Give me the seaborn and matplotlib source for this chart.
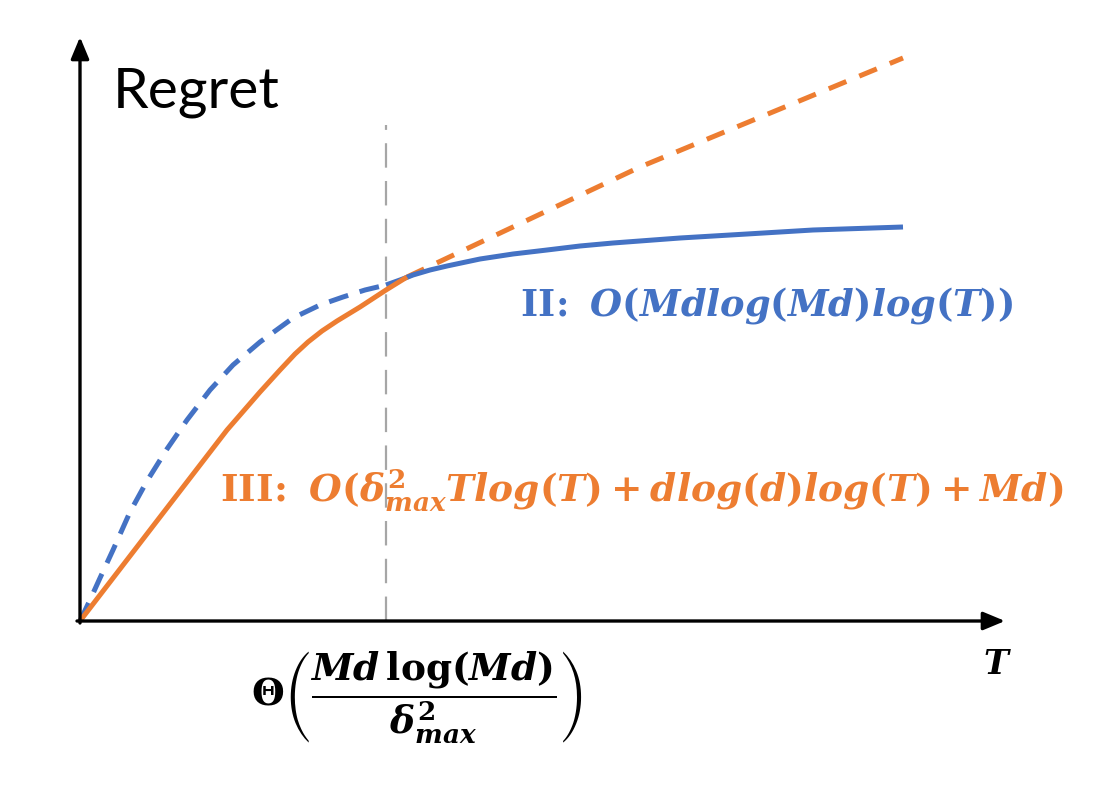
import matplotlib
matplotlib.use("Agg")
import matplotlib.pyplot as plt
import seaborn as sns
import pandas as pd

# curve points (T, Regret)
blue_dash_t = [0, 0.10, 0.20, 0.33, 0.50, 0.67, 0.87, 1.07, 1.30, 1.53, 1.80, 2.13, 2.40, 2.63, 2.85, 3.06]
blue_dash_r = [0, 0.21, 0.43, 0.71, 1.09, 1.40, 1.72, 2.01, 2.31, 2.56, 2.79, 3.03, 3.16, 3.24, 3.31, 3.36]
blue_solid_t = [3.06, 3.20, 3.33, 3.50, 3.67, 4.00, 4.33, 4.67, 5.00, 5.33, 6.00, 6.67, 7.33, 8.23]
blue_solid_r = [3.36, 3.41, 3.46, 3.51, 3.55, 3.62, 3.67, 3.71, 3.75, 3.78, 3.83, 3.87, 3.91, 3.94]
orange_solid_t = [0, 0.80, 1.47, 1.80, 2.00, 2.15, 2.28, 2.42, 2.57, 2.80, 3.06, 3.27]
orange_solid_r = [0, 1.04, 1.91, 2.29, 2.51, 2.67, 2.79, 2.90, 3.00, 3.14, 3.31, 3.44]
orange_dash_t = [3.27, 5.60, 8.23]
orange_dash_r = [3.44, 4.54, 5.63]
threshold_t = 3.06

BLUE = "#4472C4"
ORANGE = "#ED7D31"

sns.set_theme(style="white")
plt.rcParams["font.family"] = ["Lato", "DejaVu Sans"]
plt.rcParams["mathtext.fontset"] = "custom"
plt.rcParams["mathtext.rm"] = "DejaVu Serif:bold"
plt.rcParams["mathtext.bf"] = "DejaVu Serif:bold"
plt.rcParams["mathtext.it"] = "DejaVu Serif:italic:bold"
plt.rcParams["mathtext.fallback"] = "stix"

fig = plt.figure(figsize=(11.1, 7.86), dpi=100)
ax = fig.add_axes([0, 0, 1, 1])
ax.set_xlim(-0.8, 10.3)
ax.set_ylim(-1.65, 6.21)
ax.axis("off")

lw = 3.6
segments = [
    (blue_dash_t, blue_dash_r, BLUE, (4, 2.4)),
    (orange_dash_t, orange_dash_r, ORANGE, (3.8, 2.8)),
    (blue_solid_t, blue_solid_r, BLUE, None),
    (orange_solid_t, orange_solid_r, ORANGE, None),
]
for t, r, c, d in segments:
    df = pd.DataFrame({"T": t, "Regret": r})
    sns.lineplot(data=df, x="T", y="Regret", sort=False, color=c,
                 linewidth=lw, ax=ax)
    ln = ax.lines[-1]
    if d is not None:
        ln.set_dashes(d)
    ln.set_solid_capstyle("butt")
    ln.set_solid_joinstyle("round")

# threshold marker
ax.plot([threshold_t, threshold_t], [0, 4.96], color="#A6A6A6", lw=1.6,
        dashes=(11, 6), zorder=1)

# axes with arrows
ax.annotate("", xy=(9.25, 0), xytext=(-0.03, 0),
            arrowprops=dict(arrowstyle="-|>,head_length=0.6,head_width=0.25",
                            color="black", lw=2.4,
                            mutation_scale=22, shrinkA=0, shrinkB=0))
ax.annotate("", xy=(0, 5.84), xytext=(0, -0.02),
            arrowprops=dict(arrowstyle="-|>,head_length=0.6,head_width=0.25",
                            color="black", lw=2.4,
                            mutation_scale=22, shrinkA=0, shrinkB=0))

ax.text(0.33, 5.13, "Regret", fontsize=41, ha="left", va="baseline", color="black")
ax.text(9.17, -0.44, r"$T$", fontsize=24, ha="center", va="center", color="black")
ax.text(4.40, 3.16, r"$\mathrm{II\!:}\ O(Mdlog(Md)log(T))$", fontsize=26.5,
        ha="left", va="center", color=BLUE)
ax.text(1.40, 1.31,
        r"$\mathrm{III\!:}\ O(\delta^2_{max}Tlog(T)+dlog(d)log(T)+Md)$",
        fontsize=27, ha="left", va="center", color=ORANGE)
ax.text(3.37, -0.76,
        r"$\Theta\left(\dfrac{Md\,\mathrm{log}(Md)}{\delta^2_{max}}\right)$",
        fontsize=27, ha="center", va="center", color="black")

fig.savefig("out.png", dpi=100)
